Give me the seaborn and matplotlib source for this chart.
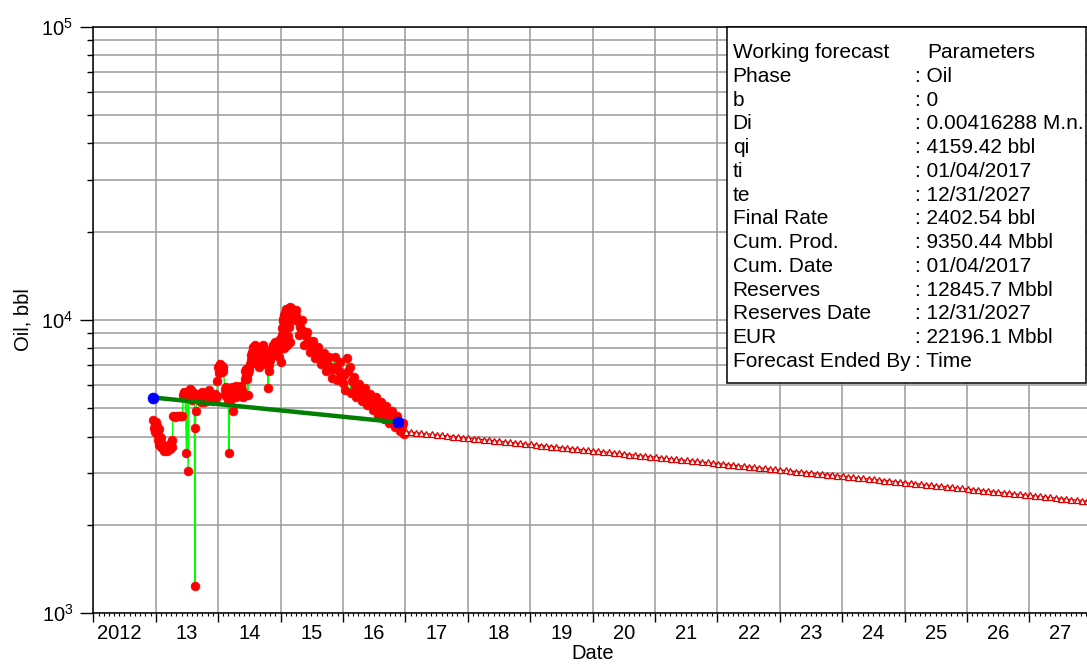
import numpy as np
import pandas as pd
import matplotlib
matplotlib.use("Agg")
import matplotlib.pyplot as plt
import matplotlib.dates as mdates
import matplotlib.ticker as mticker
from matplotlib.patches import Rectangle
from matplotlib.transforms import ScaledTranslation
import seaborn as sns

# ---------------- production history (oil rate, bbl), build-up period ----------------
prod_dates = [
    "2012-12-16", "2012-12-26", "2013-01-03", "2013-01-09", "2013-01-14", "2013-01-20",
    "2013-01-26", "2013-02-02", "2013-02-07", "2013-02-16", "2013-02-25", "2013-03-05",
    "2013-03-14", "2013-03-23", "2013-03-31", "2013-04-08", "2013-04-11", "2013-04-22",
    "2013-05-04", "2013-05-15", "2013-05-27", "2013-06-05", "2013-06-11", "2013-06-17",
    "2013-06-22", "2013-06-29", "2013-07-03", "2013-07-09", "2013-07-13", "2013-07-19",
    "2013-07-28", "2013-08-06", "2013-08-14", "2013-08-17", "2013-08-20", "2013-08-23",
    "2013-08-29", "2013-09-05", "2013-09-15", "2013-09-25", "2013-10-05", "2013-10-15",
    "2013-10-25", "2013-11-05", "2013-11-15", "2013-11-22", "2013-11-28", "2013-12-05",
    "2013-12-12", "2013-12-19", "2013-12-24", "2013-12-27", "2014-01-02", "2014-01-08",
    "2014-01-14", "2014-01-20", "2014-01-26", "2014-02-01", "2014-02-08", "2014-02-15",
    "2014-02-22", "2014-03-01", "2014-03-06", "2014-03-09", "2014-03-15", "2014-03-22",
    "2014-03-28", "2014-04-03", "2014-04-10", "2014-04-18", "2014-04-26", "2014-05-05",
    "2014-05-13", "2014-05-21", "2014-05-29", "2014-06-04", "2014-06-10", "2014-06-15",
    "2014-06-20", "2014-06-23", "2014-06-27", "2014-07-03", "2014-07-10", "2014-07-16",
    "2014-07-21", "2014-07-24", "2014-07-28", "2014-08-04", "2014-08-12", "2014-08-20",
    "2014-08-27", "2014-09-03", "2014-09-12", "2014-09-20", "2014-09-28", "2014-10-05",
    "2014-10-12", "2014-10-18", "2014-10-20", "2014-10-24", "2014-11-01", "2014-11-08",
    "2014-11-15", "2014-11-22", "2014-11-30", "2014-12-08", "2014-12-16", "2014-12-22",
    "2014-12-28", "2015-01-05", "2015-01-08", "2015-01-12", "2015-01-16", "2015-01-20",
    "2015-01-24", "2015-01-29", "2015-02-03", "2015-02-08", "2015-02-12", "2015-02-17",
    "2015-02-22", "2015-02-27", "2015-03-04", "2015-03-09", "2015-03-14", "2015-03-20",
    "2015-03-26", "2015-04-01",
]
prod_oil = [
    4550, 4400, 4500, 4100, 3900, 4250,
    3800, 3950, 3700, 3650, 3600, 3700,
    3620, 3680, 3800, 3900, 4700, 4680,
    4720, 4700, 4690, 4720, 5550, 5700,
    5600, 3530, 5500, 3060, 5650, 5800,
    5600, 5500, 5650, 1240, 4270, 4900,
    5400, 5450, 5300, 5550, 5350, 5500,
    5650, 5400, 5600, 5450, 5550, 5350,
    5600, 5400, 5500, 6200, 6900, 6750,
    7000, 6800, 6650, 6900, 5800, 5500,
    5700, 5350, 3520, 5300, 5650, 5900,
    4900, 5500, 5800, 5450, 5700, 5900,
    5500, 5750, 5600, 6300, 6500, 6800,
    6300, 5550, 6600, 6900, 7300, 7800,
    8100, 7150, 8000, 8200, 7900, 7500,
    6900, 7600, 7900, 8200, 7700, 7400,
    7100, 6950, 5850, 6700, 7300, 7800,
    8200, 7900, 8400, 8000, 8300, 7500,
    8600, 7200, 8500, 9400, 10100, 8000,
    10400, 9800, 10900, 8200, 10500, 11000,
    10600, 11100, 10700, 10900, 10300, 10600,
    10000, 10300,
]

# additional readings between the reports above
infill_dates = [
    "2012-12-20", "2012-12-30", "2013-01-06", "2013-01-17", "2013-01-23", "2013-01-29",
    "2013-02-12", "2013-02-20", "2013-03-01", "2013-03-10", "2013-03-18", "2013-03-27",
    "2013-04-04", "2013-07-24", "2013-08-02", "2013-09-10", "2013-09-20", "2013-09-30",
    "2013-10-10", "2013-10-20", "2013-10-30", "2013-11-10", "2013-12-01", "2014-01-05",
    "2014-01-11", "2014-01-17", "2014-01-23", "2014-01-29", "2014-02-12", "2014-02-18",
    "2014-02-26", "2014-03-12", "2014-03-18", "2014-04-07", "2014-04-14", "2014-04-22",
    "2014-04-30", "2014-05-09", "2014-05-17", "2014-05-25", "2014-06-07", "2014-06-13",
    "2014-06-30", "2014-07-06", "2014-07-13", "2014-07-18", "2014-07-31", "2014-08-08",
    "2014-08-16", "2014-08-24", "2014-09-07", "2014-09-16", "2014-09-24", "2014-10-01",
    "2014-10-08", "2014-10-28", "2014-11-04", "2014-11-11", "2014-11-18", "2014-11-26",
    "2014-12-04", "2014-12-12", "2014-12-19", "2014-12-25", "2015-01-02", "2015-01-10",
    "2015-01-14", "2015-01-18", "2015-01-22", "2015-01-27", "2015-01-30", "2015-01-31",
    "2015-02-05", "2015-02-10", "2015-02-14", "2015-02-15", "2015-02-19", "2015-02-20",
    "2015-02-24", "2015-02-26", "2015-03-01", "2015-03-06", "2015-03-11", "2015-03-17",
    "2015-03-23", "2015-03-29",
]
infill_oil = [
    4300, 4150, 4350, 3750, 4000, 3680,
    3750, 3580, 3650, 3580, 3750, 3620,
    3700, 5750, 5350, 5600, 5250, 5700,
    5250, 5450, 5300, 5750, 5300, 6600,
    7100, 6700, 6950, 6700, 5600, 5900,
    5450, 5500, 5800, 5600, 5950, 5600,
    5850, 5650, 5950, 5450, 6700, 6400,
    6750, 7100, 7600, 7500, 7700, 8000,
    7700, 7200, 7800, 8100, 7900, 7500,
    7200, 7000, 7500, 8000, 7700, 8100,
    8300, 7800, 8100, 7900, 8200, 8900,
    9900, 9000, 9600, 10600, 8300, 10200,
    10300, 9800, 8800, 10800, 10300, 9500,
    10900, 8400, 10400, 11000, 10500, 10800,
    10200, 10500,
]

# decline period, readings every 8 days
decline_dates = [
    "2015-04-03", "2015-04-11", "2015-04-19", "2015-04-27", "2015-05-05", "2015-05-13",
    "2015-05-21", "2015-05-29", "2015-06-06", "2015-06-14", "2015-06-22", "2015-06-30",
    "2015-07-08", "2015-07-16", "2015-07-24", "2015-08-01", "2015-08-09", "2015-08-17",
    "2015-08-25", "2015-09-02", "2015-09-10", "2015-09-18", "2015-09-26", "2015-10-04",
    "2015-10-12", "2015-10-20", "2015-10-28", "2015-11-05", "2015-11-13", "2015-11-21",
    "2015-11-29", "2015-12-07", "2015-12-15", "2015-12-23", "2015-12-31", "2016-01-08",
    "2016-01-16", "2016-01-24", "2016-02-01", "2016-02-09", "2016-02-17", "2016-02-25",
    "2016-03-04", "2016-03-12", "2016-03-20", "2016-03-28", "2016-04-05", "2016-04-13",
    "2016-04-21", "2016-04-29", "2016-05-07", "2016-05-15", "2016-05-23", "2016-05-31",
    "2016-06-08", "2016-06-16", "2016-06-24", "2016-07-02", "2016-07-10", "2016-07-18",
    "2016-07-26", "2016-08-03", "2016-08-11", "2016-08-19", "2016-08-27", "2016-09-04",
    "2016-09-12", "2016-09-20", "2016-09-28", "2016-10-06", "2016-10-14", "2016-10-22",
    "2016-10-30", "2016-11-07", "2016-11-15", "2016-11-23", "2016-12-01", "2016-12-09",
    "2016-12-17", "2016-12-25",
]
decline_oil = [
    10800, 9900, 8900, 9500, 10000, 9200,
    8250, 8800, 9100, 8500, 7750, 8200,
    8500, 8000, 7400, 7800, 8100, 7600,
    7100, 7400, 7700, 7250, 6700, 7000,
    7450, 6900, 6350, 6800, 7500, 6900,
    6250, 6700, 7200, 6600, 6100, 6500,
    5750, 7400, 6700, 6900, 5650, 6200,
    6400, 5900, 5450, 5800, 6050, 5700,
    5300, 5550, 5850, 5500, 5150, 5400,
    5600, 5300, 4950, 5200, 5450, 5100,
    4750, 5000, 5270, 4950, 4580, 4850,
    5100, 4750, 4450, 4700, 4900, 4600,
    4320, 4550, 4700, 4400, 4170, 4350,
    4450, 4100,
]

# ---------------- decline fit over the history (end points) ----------------
fit_dates = ["2012-12-17", "2016-11-19"]
fit_oil = [5442, 4479]

# ---------------- exponential forecast, monthly steps ----------------
forecast_start = "2017-01-04"
forecast_end = "2027-12-31"
forecast_oil = [
    4159.42, 4142.1, 4124.9, 4107.8, 4090.7, 4073.7, 4056.8, 4040.0, 4023.2, 4006.5, 3989.8, 3973.2,
    3956.7, 3940.3, 3923.9, 3907.6, 3891.4, 3875.2, 3859.1, 3843.1, 3827.1, 3811.2, 3795.4, 3779.6,
    3763.9, 3748.3, 3732.7, 3717.2, 3701.8, 3686.4, 3671.1, 3655.8, 3640.7, 3625.5, 3610.5, 3595.5,
    3580.5, 3565.7, 3550.8, 3536.1, 3521.4, 3506.8, 3492.2, 3477.7, 3463.3, 3448.9, 3434.5, 3420.3,
    3406.1, 3391.9, 3377.8, 3363.8, 3349.8, 3335.9, 3322.0, 3308.2, 3294.5, 3280.8, 3267.2, 3253.6,
    3240.1, 3226.6, 3213.2, 3199.9, 3186.6, 3173.4, 3160.2, 3147.0, 3134.0, 3120.9, 3108.0, 3095.1,
    3082.2, 3069.4, 3056.7, 3044.0, 3031.3, 3018.7, 3006.2, 2993.7, 2981.3, 2968.9, 2956.5, 2944.3,
    2932.0, 2919.8, 2907.7, 2895.6, 2883.6, 2871.6, 2859.7, 2847.8, 2836.0, 2824.2, 2812.5, 2800.8,
    2789.2, 2777.6, 2766.0, 2754.5, 2743.1, 2731.7, 2720.4, 2709.1, 2697.8, 2686.6, 2675.4, 2664.3,
    2653.2, 2642.2, 2631.2, 2620.3, 2609.4, 2598.6, 2587.8, 2577.0, 2566.3, 2555.7, 2545.1, 2534.5,
    2524.0, 2513.5, 2503.0, 2492.6, 2482.3, 2472.0, 2461.7, 2451.5, 2441.3, 2431.1, 2421.0, 2411.0,
    2402.54,
]

# ---------------- axis labelling ----------------
years = list(range(2012, 2028))
year_labels = ["2012"] + [str(y)[2:] for y in years[1:]]
x_start, x_end = "2012-01-01", "2027-12-04"

# ---------------- parameter table ----------------
table_header = ("Working forecast", "Parameters")
param_names = ["Phase", "b", "Di", "qi", "ti", "te", "Final Rate", "Cum. Prod.",
               "Cum. Date", "Reserves", "Reserves Date", "EUR", "Forecast Ended By"]
param_values = ["Oil", "0", "0.00416288 M.n.", "4159.42 bbl", "01/04/2017", "12/31/2027",
                "2402.54 bbl", "9350.44 Mbbl", "01/04/2017", "12845.7 Mbbl", "12/31/2027",
                "22196.1 Mbbl", "Time"]

# ---------------- build frames ----------------
prod = pd.DataFrame({"date": pd.to_datetime(prod_dates + infill_dates + decline_dates),
                     "oil": prod_oil + infill_oil + decline_oil})
prod = prod.sort_values("date", kind="stable").reset_index(drop=True)
fit = pd.DataFrame({"date": pd.to_datetime(fit_dates), "oil": fit_oil})
fc_dates = list(pd.date_range(forecast_start, periods=len(forecast_oil) - 1,
                              freq=pd.DateOffset(months=1))) + [pd.Timestamp(forecast_end)]
fc = pd.DataFrame({"date": fc_dates, "oil": forecast_oil})

# ---------------- style ----------------
sns.set_theme(style="ticks")
plt.rcParams["font.family"] = ["Liberation Sans", "DejaVu Sans"]
plt.rcParams["axes.edgecolor"] = "black"
plt.rcParams["text.color"] = "black"
plt.rcParams["axes.labelcolor"] = "black"
plt.rcParams["xtick.color"] = "black"
plt.rcParams["ytick.color"] = "black"

W, H = 1087, 670
fig = plt.figure(figsize=(W / 100, H / 100), dpi=100)
fig.patch.set_facecolor("white")
ax_l, ax_t, ax_b = 93.3, 26.7, 613.3
ax = fig.add_axes([ax_l / W, 1 - ax_b / H, (W - ax_l) / W, (ax_b - ax_t) / H])
ax.set_facecolor("white")

# history: red dots joined by a thin lime line
sns.lineplot(data=prod, x="date", y="oil", ax=ax, estimator=None, sort=False,
             color="#00ff00", linewidth=1.0, marker="o", markersize=6.3,
             markerfacecolor="#ff0000", markeredgecolor="#ff0000",
             markeredgewidth=0.5, zorder=3)
# fitted decline segment
sns.lineplot(data=fit, x="date", y="oil", ax=ax, estimator=None, sort=False,
             color="#008000", linewidth=3.2, zorder=4)
sns.scatterplot(data=fit, x="date", y="oil", ax=ax, color="#0000ff", s=62,
                edgecolor="#0000ff", linewidth=0.5, zorder=5)
# forecast
sns.lineplot(data=fc, x="date", y="oil", ax=ax, estimator=None, sort=False,
             color="#dd0000", linewidth=1.0, marker="^", markersize=4.4,
             markerfacecolor="white", markeredgecolor="#dd0000",
             markeredgewidth=0.9, zorder=4)

ax.set_yscale("log")
ax.set_ylim(1e3, 1e5)
ax.set_xlim(pd.Timestamp(x_start), pd.Timestamp(x_end))

# y ticks
ax.yaxis.set_major_locator(mticker.LogLocator(base=10))
ax.yaxis.set_minor_locator(mticker.LogLocator(base=10, subs=np.arange(2, 10)))
ax.yaxis.set_minor_formatter(mticker.NullFormatter())
ax.tick_params(axis="y", which="major", length=9.4, width=1.0, pad=5, labelsize=14.5, direction="out")
ax.tick_params(axis="y", which="minor", length=4.4, width=1.0, direction="out")

# x ticks: long ticks at year starts, short monthly ticks, labels centred in each year
ax.set_xticks(pd.to_datetime([f"{y}-01-01" for y in years]), labels=year_labels)
ax.xaxis.set_minor_locator(mdates.MonthLocator())
ax.tick_params(axis="x", which="major", length=6.7, width=1.0, pad=1.0, labelsize=14.5, direction="out")
ax.tick_params(axis="x", which="minor", length=2.3, width=0.8, direction="out")

x0, x1 = ax.get_xlim()
half_year_in = 182.6 / (x1 - x0) * ax.get_position().width * fig.get_figwidth()
for k, lab in enumerate(ax.get_xticklabels()):
    dx = half_year_in - (0.05 if k == 0 else 0.0)
    lab.set_transform(lab.get_transform() + ScaledTranslation(dx, 0, fig.dpi_scale_trans))

# grid
ax.grid(False)
ax.xaxis.grid(True, which="major", color="#9a9a9a", linewidth=1.1)
ax.xaxis.grid(False, which="minor")
ax.yaxis.grid(True, which="both", color="#9a9a9a", linewidth=1.1)
ax.set_axisbelow(True)

for side in ("left", "bottom", "top"):
    ax.spines[side].set_visible(True)
    ax.spines[side].set_color("black")
    ax.spines[side].set_linewidth(1.1)
ax.spines["right"].set_visible(False)

ax.set_xlabel("Date", fontsize=14.5)
ax.set_ylabel("Oil, bbl", fontsize=14.5)
ax.xaxis.set_label_coords((593 - ax_l) / (W - ax_l), -(644 - ax_b) / (ax_b - ax_t))
ax.yaxis.set_label_coords(-(ax_l - 33) / (W - ax_l), 0.5)

# ---------------- parameter table box ----------------
bx0, by0, bx1, by1 = 726.7, 26.7, 1085.7, 383.3
fig.patches.append(Rectangle((bx0 / W, 1 - by1 / H), (bx1 - bx0) / W, (by1 - by0) / H,
                             transform=fig.transFigure, facecolor="white",
                             edgecolor="black", linewidth=1.1, zorder=5))
col_name, col_colon, col_val = 732.7, 915.0, 927.0
base0, step = 58.3, 23.72
fs = 15
fig.text(col_name / W, 1 - base0 / H, table_header[0], fontsize=fs, va="baseline", zorder=6)
fig.text(col_val / W, 1 - base0 / H, table_header[1], fontsize=fs, va="baseline", zorder=6)
for i, (name, val) in enumerate(zip(param_names, param_values), start=1):
    yb = 1 - (base0 + i * step) / H
    fig.text(col_name / W, yb, name, fontsize=fs, va="baseline", zorder=6)
    fig.text(col_colon / W, yb, ": " + val, fontsize=fs, va="baseline", zorder=6)

fig.savefig("out.png", dpi=100, facecolor="white")
